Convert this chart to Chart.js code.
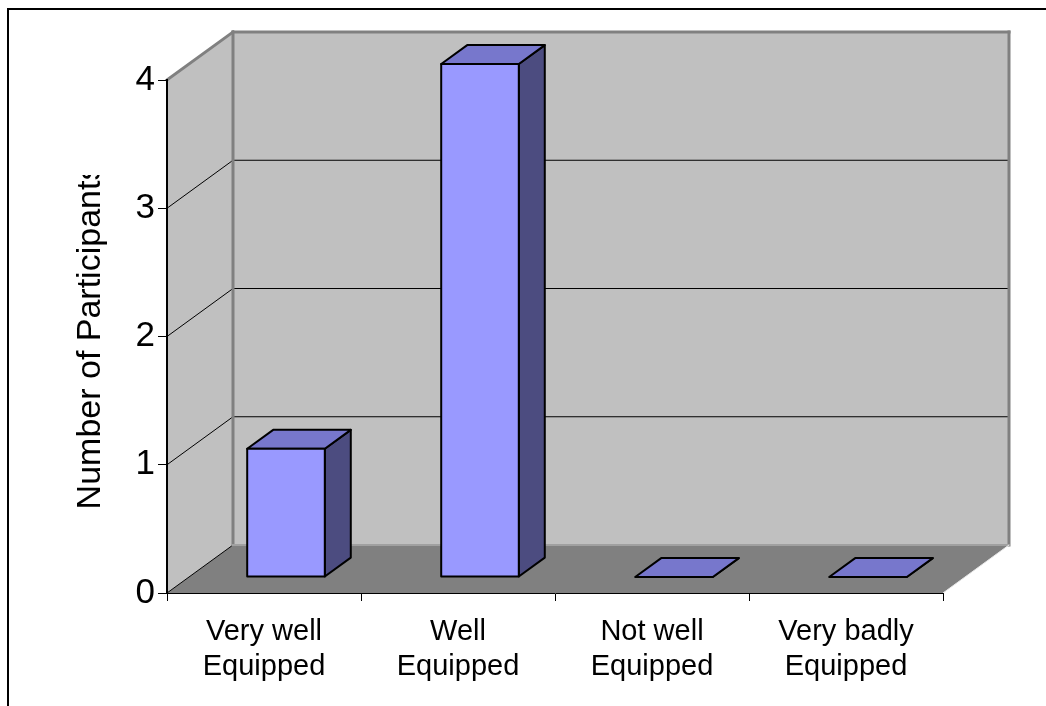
<!DOCTYPE html>
<html>
<head>
<meta charset="utf-8">
<script src="https://cdn.jsdelivr.net/npm/chart.js@4/dist/chart.umd.min.js"></script>
<style>
  html, body { margin: 0; padding: 0; background: #fff; }
  #wrap { width: 1046px; height: 706px; }
</style>
</head>
<body>
<div id="wrap"><canvas id="c" width="1046" height="706"></canvas></div>
<script>
// Survey answers: how well equipped participants feel
const categories = [
  ['Very well', 'Equipped'],
  ['Well', 'Equipped'],
  ['Not well', 'Equipped'],
  ['Very badly', 'Equipped']
];
const participants = [1, 4, 0, 0];
const yTickValues = [0, 1, 2, 3, 4];
const yAxisTitle = 'Number of Participants';

const FONT = "'Liberation Sans', Arial, sans-serif";

// depth of the 3D box (back wall offset from the front plane)
const DEPTH = { dx: 66, dy: -48 };
// bars sit between these fractions of the depth
const BAR_FRONT = 1 / 3;
const BAR_BACK = 0.727;
// the axis title box is cut off above this line
const TITLE_CLIP_Y = 175;

const COLORS = {
  wall: '#C0C0C0',
  wallEdge: '#808080',
  floor: '#808080',
  grid: '#000000',
  barFront: '#9999FF',
  barTop: '#7777CC',
  barSide: '#4C4C80'
};

function poly(ctx, pts, fill, stroke, lw) {
  ctx.beginPath();
  ctx.moveTo(pts[0][0], pts[0][1]);
  for (let i = 1; i < pts.length; i++) ctx.lineTo(pts[i][0], pts[i][1]);
  ctx.closePath();
  if (fill) { ctx.fillStyle = fill; ctx.fill(); }
  if (stroke) { ctx.strokeStyle = stroke; ctx.lineWidth = lw || 1; ctx.stroke(); }
}

function line(ctx, x1, y1, x2, y2, color, lw) {
  ctx.beginPath();
  ctx.moveTo(x1, y1);
  ctx.lineTo(x2, y2);
  ctx.strokeStyle = color;
  ctx.lineWidth = lw;
  ctx.stroke();
}

// walls, floor and frame behind the axes
const box3d = {
  id: 'box3d',
  beforeDraw(chart) {
    const ctx = chart.ctx;
    const xs = chart.scales.x, ys = chart.scales.y;
    const { dx, dy } = DEPTH;
    const x0 = xs.left, x1 = xs.right;
    const yTop = ys.getPixelForValue(yTickValues[yTickValues.length - 1]);
    const yBot = ys.getPixelForValue(yTickValues[0]);

    ctx.save();
    ctx.fillStyle = '#ffffff';
    ctx.fillRect(0, 0, chart.width, chart.height);

    // outer frame (left and top edges)
    line(ctx, 8, 9, 8, chart.height, '#000', 2);
    line(ctx, 7, 9, chart.width, 9, '#000', 2);

    ctx.lineJoin = 'miter';
    // side wall
    poly(ctx, [[x0, yTop], [x0 + dx, yTop + dy], [x0 + dx, yBot + dy], [x0, yBot]], COLORS.wall);
    // back wall
    poly(ctx, [[x0 + dx, yTop + dy], [x1 + dx, yTop + dy], [x1 + dx, yBot + dy], [x0 + dx, yBot + dy]], COLORS.wall);
    // floor
    poly(ctx, [[x0, yBot], [x1, yBot], [x1 + dx, yBot + dy], [x0 + dx, yBot + dy]], COLORS.floor);

    // gridlines on back and side walls
    yTickValues.forEach(v => {
      const py = ys.getPixelForValue(v);
      if (v !== yTickValues[0] && v !== yTickValues[yTickValues.length - 1]) {
        line(ctx, x0 + dx, py + dy, x1 + dx, py + dy, COLORS.grid, 1);
      }
      if (v !== yTickValues[yTickValues.length - 1]) {
        line(ctx, x0, py, x0 + dx, py + dy, COLORS.grid, 1);
      }
    });

    // wall edges
    ctx.lineCap = 'square';
    line(ctx, x0, yTop, x0 + dx, yTop + dy, COLORS.wallEdge, 3);
    line(ctx, x0 + dx, yTop + dy, x1 + dx, yTop + dy, COLORS.wallEdge, 3);
    line(ctx, x0 + dx, yTop + dy, x0 + dx, yBot + dy, COLORS.wallEdge, 3);
    line(ctx, x1 + dx, yTop + dy, x1 + dx, yBot + dy, COLORS.wallEdge, 3);
    line(ctx, x0 + dx, yBot + dy, x1 + dx, yBot + dy, '#A0A0A0', 2);
    ctx.lineCap = 'butt';
    // floor front-right edge
    line(ctx, x1, yBot, x1 + dx, yBot + dy, '#E8E8E8', 1);
    ctx.restore();
  },
  // draw each bar as a shaded box
  afterDatasetsDraw(chart) {
    const ctx = chart.ctx;
    const meta = chart.getDatasetMeta(0);
    const { dx, dy } = DEPTH;
    const ox = dx * BAR_FRONT, oy = dy * BAR_FRONT;
    const sx = dx * (BAR_BACK - BAR_FRONT), sy = dy * (BAR_BACK - BAR_FRONT);
    ctx.save();
    ctx.lineJoin = 'round';
    meta.data.forEach(bar => {
      const p = bar.getProps(['x', 'y', 'base', 'width'], true);
      const l = p.x - p.width / 2 + ox, r = p.x + p.width / 2 + ox;
      const t = Math.min(p.y, p.base) + oy, b = Math.max(p.y, p.base) + oy;
      // side face
      poly(ctx, [[r, t], [r + sx, t + sy], [r + sx, b + sy], [r, b]], COLORS.barSide, '#000', 2);
      // top face
      poly(ctx, [[l, t], [l + sx, t + sy], [r + sx, t + sy], [r, t]], COLORS.barTop, '#000', 2);
      // front face
      if (b - t > 0.5) poly(ctx, [[l, t], [r, t], [r, b], [l, b]], COLORS.barFront, '#000', 2);
    });
    ctx.restore();
  },
  // the title's text box ends above the plot, trimming its last letter
  afterDraw(chart) {
    const ys = chart.scales.y;
    const ctx = chart.ctx;
    ctx.save();
    ctx.fillStyle = '#ffffff';
    ctx.fillRect(ys.left, 20, 48, TITLE_CLIP_Y - 20);
    ctx.restore();
  }
};

const Y_AXIS_WIDTH = 100;
const X_AXIS_HEIGHT = 113;

new Chart(document.getElementById('c'), {
  type: 'bar',
  data: {
    labels: categories,
    datasets: [{
      label: yAxisTitle,
      data: participants,
      backgroundColor: 'rgba(0,0,0,0)',
      borderWidth: 0,
      barPercentage: 0.4,
      categoryPercentage: 1.0
    }]
  },
  options: {
    responsive: false,
    animation: false,
    devicePixelRatio: 1,
    layout: { padding: { left: 67, top: 80, right: 103, bottom: 0 } },
    plugins: {
      legend: { display: false },
      tooltip: { enabled: false }
    },
    scales: {
      x: {
        grid: {
          display: true,
          offset: true,
          drawOnChartArea: false,
          drawTicks: true,
          tickLength: 8,
          color: '#000',
          lineWidth: 1
        },
        border: { display: true, color: '#000', width: 1 },
        ticks: {
          color: '#000',
          padding: 13,
          maxRotation: 0,
          autoSkip: false,
          font: { family: FONT, size: 29, lineHeight: 1.22 }
        },
        afterFit(scale) { scale.height = X_AXIS_HEIGHT; }
      },
      y: {
        min: 0,
        max: 4,
        afterBuildTicks(scale) { scale.ticks = yTickValues.map(v => ({ value: v })); },
        grid: {
          display: true,
          drawOnChartArea: false,
          drawTicks: true,
          tickLength: 9,
          color: '#000',
          lineWidth: 1
        },
        border: { display: true, color: '#000', width: 2 },
        ticks: {
          color: '#000',
          padding: 3,
          font: { family: FONT, size: 35 }
        },
        title: {
          display: true,
          text: yAxisTitle,
          color: '#000',
          padding: { top: 3, bottom: 0 },
          font: { family: FONT, size: 34 }
        },
        afterFit(scale) { scale.width = Y_AXIS_WIDTH; }
      }
    }
  },
  plugins: [box3d]
});
</script>
</body>
</html>
